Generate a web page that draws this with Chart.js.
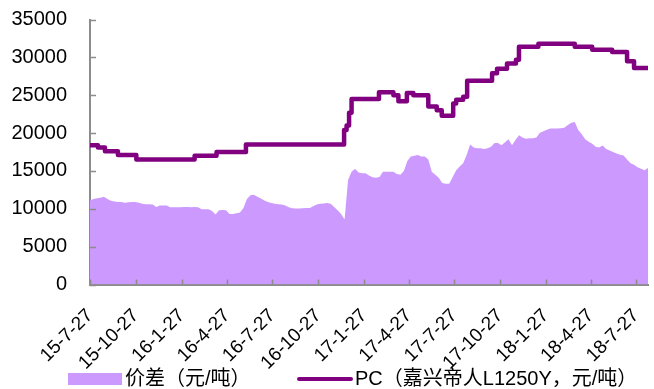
<!DOCTYPE html>
<html>
<head>
<meta charset="utf-8">
<script src="https://cdn.jsdelivr.net/npm/chart.js@4.4.1/dist/chart.umd.min.js"></script>
<style>
  html, body { margin: 0; padding: 0; background: #ffffff; }
  canvas { display: block; }
</style>
</head>
<body>
<canvas id="chart" width="654" height="389"></canvas>
<script>
// Quarterly date labels on the x axis (yy-m-d)
const tickLabels = ["15-7-27", "15-10-27", "16-1-27", "16-4-27", "16-7-27", "16-10-27",
  "17-1-27", "17-4-27", "17-7-27", "17-10-27", "18-1-27", "18-4-27", "18-7-27"];

// First day of both series
const seriesStart = "2015-07-27";

// Spread (元/吨), one value per week from seriesStart
const spreadWeekly = [
  11100, 11300, 11400, 11450, 11600, 11300, 11050, 10950, 10900, 10880,
  10800, 10870, 10900, 10900, 10800, 10650, 10600, 10600, 10550, 10250,
  10420, 10450, 10450, 10200, 10200, 10200, 10200, 10250, 10220, 10200,
  10250, 10200, 9950, 9950, 9950, 9700, 9250, 9800, 9850, 9800,
  9300, 9300, 9400, 9500, 10100, 11300, 11800, 11850, 11600, 11350,
  11100, 10900, 10750, 10650, 10600, 10550, 10450, 10200, 10080, 10050,
  10050, 10080, 10100, 10100, 10350, 10550, 10650, 10700, 10750, 10650,
  10250, 9800, 9300, 8600, 13800, 14900, 15300, 14800, 14700, 14700,
  14400, 14150, 14100, 14200, 14900, 14900, 14900, 14900, 14600, 14500,
  15000, 16300, 16900, 17000, 17100, 16900, 16900, 16500, 14900, 14500,
  14100, 13400, 13300, 13300, 14200, 15100, 15600, 16000, 17100, 18500,
  18100, 18000, 18000, 17900, 18000, 18200, 18700, 18700, 18400, 18800,
  19200, 18400, 19100, 19700, 19400, 19250, 19300, 19300, 19400, 20050,
  20250, 20450, 20600, 20600, 20600, 20650, 20700, 21050, 21350, 21450,
  20400, 19850, 19200, 18850, 18600, 18200, 18100, 18350, 17900, 17700,
  17500, 17300, 17150, 17050, 16500, 16000, 15800, 15500, 15300, 15100,
  15400
];

// PC price (嘉兴帝人L1250Y, 元/吨): day offset from seriesStart where a new quote starts
const pcDays = [0, 16, 30, 56, 93, 210, 254, 313, 510, 515, 520, 525, 580, 609, 619,
  636, 649, 679, 696, 706, 729, 735, 749, 757, 807, 817, 837, 855, 861, 900,
  973, 1008, 1048, 1078, 1092, 1120];
const pcValues = [18400, 18100, 17600, 17100, 16500, 17000, 17500, 18500, 20400, 21000,
  22700, 24500, 25400, 25000, 24200, 25300, 25000, 23500, 23000, 22300,
  23900, 24400, 24800, 26900, 27900, 28500, 29200, 29700, 31400, 31800,
  31400, 31000, 30700, 29500, 28600, 28600];

const AREA_COLOR = "#cc99ff";
const LINE_COLOR = "#800080";
const AXIS_COLOR = "#8c8c8c";
const FONT_FAMILY = '"Liberation Sans", Arial, "Noto Sans CJK SC", sans-serif';

const DAY_MS = 86400000;
const startMs = Date.parse(seriesStart + "T00:00:00Z");
function labelToDay(label) {
  const [yy, m, d] = label.split("-").map(Number);
  return Math.round((Date.UTC(2000 + yy, m - 1, d) - startMs) / DAY_MS);
}
const tickDays = tickLabels.map(labelToDay);
const lastDay = (spreadWeekly.length - 1) * 7;

const spreadPoints = spreadWeekly.map((v, i) => ({ x: i * 7, y: v }));
const pcPoints = pcDays.map((d, i) => ({ x: d, y: pcValues[i] }));

// Short tick marks pointing into the plot area
const innerTicks = {
  id: "innerTicks",
  afterDraw(chart) {
    const { ctx, chartArea, scales } = chart;
    ctx.save();
    ctx.strokeStyle = AXIS_COLOR;
    ctx.lineWidth = 1.5;
    ctx.beginPath();
    scales.x.ticks.forEach(t => {
      const px = Math.round(scales.x.getPixelForValue(t.value)) + 0.5;
      ctx.moveTo(px, chartArea.bottom);
      ctx.lineTo(px, chartArea.bottom - 5);
    });
    scales.y.ticks.forEach(t => {
      const py = Math.round(scales.y.getPixelForValue(t.value)) + 0.5;
      ctx.moveTo(chartArea.left, py);
      ctx.lineTo(chartArea.left + 6, py);
    });
    ctx.stroke();
    ctx.restore();
  }
};

// Legend row under the axis labels
const bottomLegend = {
  id: "bottomLegend",
  afterDraw(chart) {
    const ctx = chart.ctx;
    const sets = chart.data.datasets;
    const area = sets.find(d => d.kind === "area");
    const line = sets.find(d => d.kind === "line");
    const cy = 379;
    ctx.save();
    ctx.font = "20px " + FONT_FAMILY;
    ctx.textBaseline = "middle";
    ctx.fillStyle = area.backgroundColor;
    ctx.fillRect(68, cy - 6, 54, 12);
    ctx.fillStyle = "#000000";
    ctx.fillText(area.label, 125, cy);
    ctx.strokeStyle = line.borderColor;
    ctx.lineWidth = 4;
    ctx.lineCap = "round";
    ctx.beginPath();
    ctx.moveTo(299, cy);
    ctx.lineTo(351, cy);
    ctx.stroke();
    ctx.fillText(line.label, 355, cy);
    ctx.restore();
  }
};

new Chart(document.getElementById("chart"), {
  type: "line",
  data: {
    datasets: [
      {
        kind: "line",
        label: "PC（嘉兴帝人L1250Y，元/吨）",
        data: pcPoints,
        borderColor: LINE_COLOR,
        borderWidth: 4.5,
        stepped: "before",
        pointRadius: 0,
        fill: false,
        borderJoinStyle: "round",
        order: 0
      },
      {
        kind: "area",
        label: "价差（元/吨）",
        data: spreadPoints,
        borderWidth: 0,
        borderColor: AREA_COLOR,
        backgroundColor: AREA_COLOR,
        pointRadius: 0,
        fill: "origin",
        tension: 0,
        order: 1
      }
    ]
  },
  options: {
    responsive: false,
    animation: false,
    devicePixelRatio: 1,
    layout: { padding: { top: 19.5, right: 6, left: 0, bottom: 0 } },
    plugins: {
      legend: { display: false },
      tooltip: { enabled: false }
    },
    scales: {
      x: {
        type: "linear",
        min: 0,
        max: lastDay,
        z: 1,
        afterBuildTicks: s => { s.ticks = tickDays.map(v => ({ value: v })); },
        afterFit: s => {
          s.height = 104.5;
          s.paddingLeft = 0;
          s.paddingRight = 0;
        },
        grid: { display: false, drawTicks: false },
        border: { display: true, color: AXIS_COLOR, width: 2 },
        ticks: {
          autoSkip: false,
          maxRotation: 45,
          minRotation: 45,
          padding: 20,
          color: "#000000",
          font: { family: FONT_FAMILY, size: 19 },
          callback: v => {
            const i = tickDays.indexOf(v);
            return i >= 0 ? tickLabels[i] : "";
          }
        }
      },
      y: {
        min: 0,
        max: 35000,
        z: 1,
        afterFit: s => {
          s.width = 90;
          s.paddingTop = 0;
          s.paddingBottom = 0;
        },
        grid: { display: false, drawTicks: false },
        border: { display: true, color: AXIS_COLOR, width: 2 },
        ticks: {
          stepSize: 5000,
          padding: 23,
          color: "#000000",
          font: { family: FONT_FAMILY, size: 20 },
          callback: v => String(v)
        }
      }
    }
  },
  plugins: [innerTicks, bottomLegend]
});
</script>
</body>
</html>
